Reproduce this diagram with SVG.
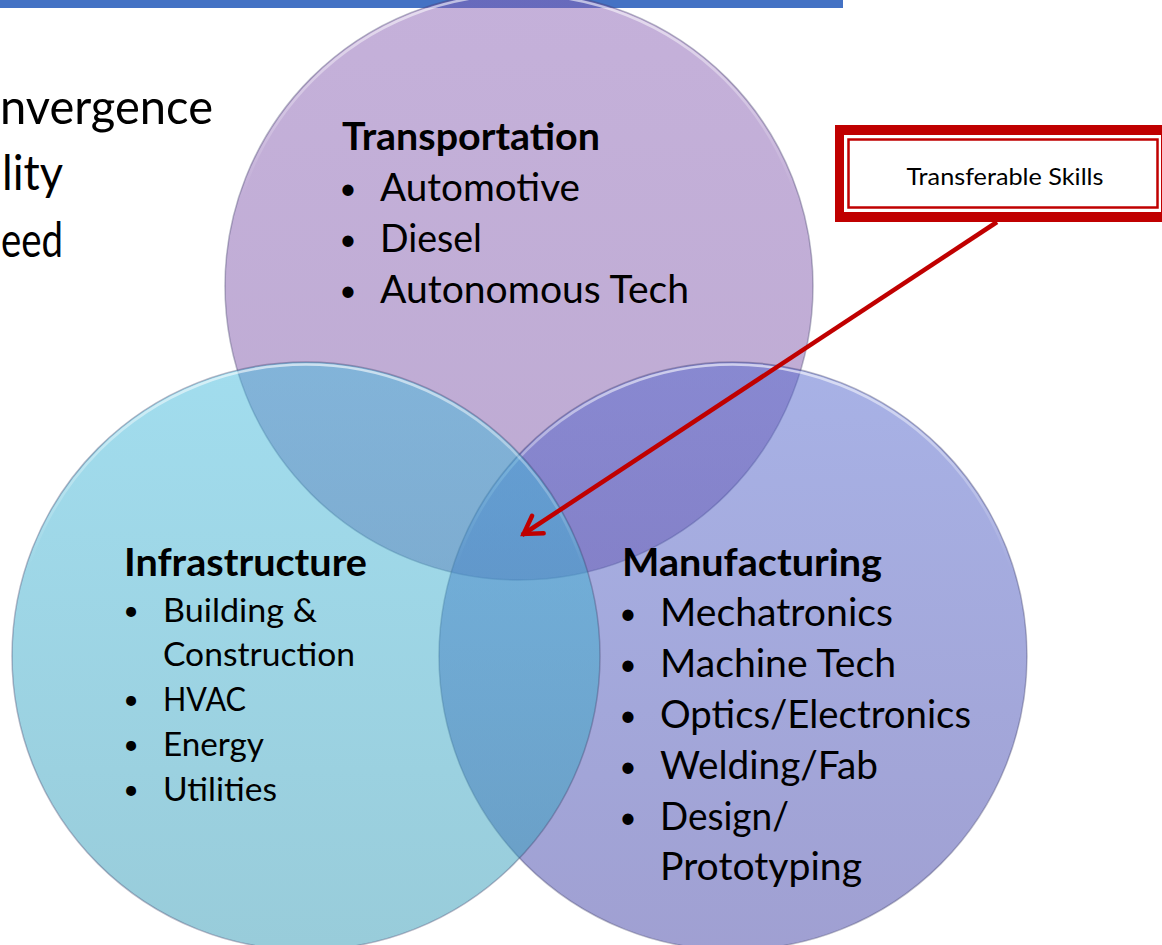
<svg xmlns="http://www.w3.org/2000/svg" width="1162" height="945" viewBox="0 0 1162 945">
  <defs>
    <style>
      .txt { font-family: Lato, "Open Sans", "Liberation Sans", sans-serif; fill: #000; }
      .big { font-size: 49px; }
      .title { font-size: 38px; font-weight: bold; }
      .item { font-size: 38px; }
      .item-sm { font-size: 33px; }
      .blt { font-size: 30px; text-anchor: middle; }
      .blt-sm { font-size: 27px; text-anchor: middle; }
      .callout { font-size: 23px; text-anchor: middle; }
      .disc { fill-opacity: 0.5; stroke: #3c3c64; stroke-opacity: 0.35; stroke-width: 1.5; }
      .shine { fill: none; stroke: url(#shine); stroke-width: 2.5; }
      .link { stroke: #C00000; stroke-width: 4.5; fill: none; }
    </style>
    <linearGradient id="gTop" x1="0" y1="0" x2="0" y2="1">
      <stop offset="0" stop-color="#8B63B5"/>
      <stop offset="1" stop-color="#7C56A6"/>
    </linearGradient>
    <linearGradient id="gLeft" x1="0" y1="0" x2="0" y2="1">
      <stop offset="0" stop-color="#45BBDD"/>
      <stop offset="1" stop-color="#3299B5"/>
    </linearGradient>
    <linearGradient id="gRight" x1="0" y1="0" x2="0" y2="1">
      <stop offset="0" stop-color="#5165CD"/>
      <stop offset="1" stop-color="#4141A5"/>
    </linearGradient>
    <linearGradient id="shine" x1="0" y1="0" x2="0" y2="1">
      <stop offset="0" stop-color="#ffffff" stop-opacity="0.6"/>
      <stop offset="0.35" stop-color="#ffffff" stop-opacity="0"/>
    </linearGradient>
    <marker id="open-arrow" viewBox="-24 -14 28 28" refX="0" refY="0" markerWidth="28" markerHeight="28" markerUnits="userSpaceOnUse" orient="auto">
      <path d="M -19 -10.5 L -2 0 L -19 10.5" fill="none" stroke="#C00000" stroke-width="4.5" stroke-linecap="round" stroke-linejoin="miter"/>
    </marker>
  </defs>

  <rect width="1162" height="945" fill="#ffffff"/>

  <!-- title bar strip -->
  <rect id="top-bar" x="0" y="0" width="843" height="8" fill="#4472C4"/>

  <!-- slide text running off the left edge -->
  <g id="left-text" class="txt big">
    <text x="0" y="124" textLength="213" lengthAdjust="spacingAndGlyphs">nvergence</text>
    <text x="2" y="190" textLength="61" lengthAdjust="spacingAndGlyphs">lity</text>
    <text x="1" y="257" textLength="62" lengthAdjust="spacingAndGlyphs">eed</text>
  </g>

  <!-- Venn circles -->
  <g id="node-transportation">
    <circle class="disc" cx="519" cy="286" r="294" fill="url(#gTop)"/>
    <circle class="shine" cx="519" cy="286" r="291.5"/>
  </g>
  <g id="node-manufacturing">
    <circle class="disc" cx="733" cy="656" r="294" fill="url(#gRight)"/>
    <circle class="shine" cx="733" cy="656" r="291.5"/>
  </g>
  <g id="node-infrastructure">
    <circle class="disc" cx="306" cy="656" r="294" fill="url(#gLeft)"/>
    <circle class="shine" cx="306" cy="656" r="291.5"/>
  </g>

  <!-- circle labels -->
  <g id="label-transportation" class="txt">
    <text class="title" x="342" y="150" textLength="258" lengthAdjust="spacingAndGlyphs">Transportation</text>
    <text class="blt" x="348" y="199">•</text>
    <text class="item" x="380" y="201" textLength="200" lengthAdjust="spacingAndGlyphs">Automotive</text>
    <text class="blt" x="348" y="250">•</text>
    <text class="item" x="380" y="252" textLength="102" lengthAdjust="spacingAndGlyphs">Diesel</text>
    <text class="blt" x="348" y="301">•</text>
    <text class="item" x="380" y="303" textLength="309" lengthAdjust="spacingAndGlyphs">Autonomous Tech</text>
  </g>

  <g id="label-infrastructure" class="txt">
    <text class="title" x="124" y="576" textLength="243" lengthAdjust="spacingAndGlyphs">Infrastructure</text>
    <text class="blt-sm" x="131" y="620">•</text>
    <text class="item-sm" x="163" y="622" textLength="154" lengthAdjust="spacingAndGlyphs">Building &amp;</text>
    <text class="item-sm" x="163" y="666" textLength="192" lengthAdjust="spacingAndGlyphs">Construction</text>
    <text class="blt-sm" x="131" y="709">•</text>
    <text class="item-sm" x="163" y="711" textLength="83" lengthAdjust="spacingAndGlyphs">HVAC</text>
    <text class="blt-sm" x="131" y="754">•</text>
    <text class="item-sm" x="163" y="756" textLength="101" lengthAdjust="spacingAndGlyphs">Energy</text>
    <text class="blt-sm" x="131" y="799">•</text>
    <text class="item-sm" x="163" y="801" textLength="114" lengthAdjust="spacingAndGlyphs">Utilities</text>
  </g>

  <g id="label-manufacturing" class="txt">
    <text class="title" x="622" y="576" textLength="260" lengthAdjust="spacingAndGlyphs">Manufacturing</text>
    <text class="blt" x="628" y="624">•</text>
    <text class="item" x="660" y="626" textLength="233" lengthAdjust="spacingAndGlyphs">Mechatronics</text>
    <text class="blt" x="628" y="675">•</text>
    <text class="item" x="660" y="677" textLength="236" lengthAdjust="spacingAndGlyphs">Machine Tech</text>
    <text class="blt" x="628" y="726">•</text>
    <text class="item" x="660" y="728" textLength="311" lengthAdjust="spacingAndGlyphs">Optics/Electronics</text>
    <text class="blt" x="628" y="777">•</text>
    <text class="item" x="660" y="779" textLength="218" lengthAdjust="spacingAndGlyphs">Welding/Fab</text>
    <text class="blt" x="628" y="828">•</text>
    <text class="item" x="660" y="830" textLength="129" lengthAdjust="spacingAndGlyphs">Design/</text>
    <text class="item" x="660" y="880" textLength="202" lengthAdjust="spacingAndGlyphs">Prototyping</text>
  </g>

  <!-- callout box with double red border -->
  <g id="node-transferable">
    <rect x="835" y="125" width="340" height="97" fill="#C00000"/>
    <rect x="844" y="135" width="317" height="77" fill="#ffffff"/>
    <rect x="848.5" y="139.5" width="309" height="68" fill="#ffffff" stroke="#C00000" stroke-width="2.5"/>
    <text class="txt callout" x="1005" y="185" textLength="197" lengthAdjust="spacingAndGlyphs">Transferable Skills</text>
  </g>

  <!-- connector from the callout to the centre of the Venn -->
  <g id="connectors">
    <line class="link" x1="997" y1="222" x2="522" y2="535" marker-end="url(#open-arrow)"/>
  </g>
</svg>
